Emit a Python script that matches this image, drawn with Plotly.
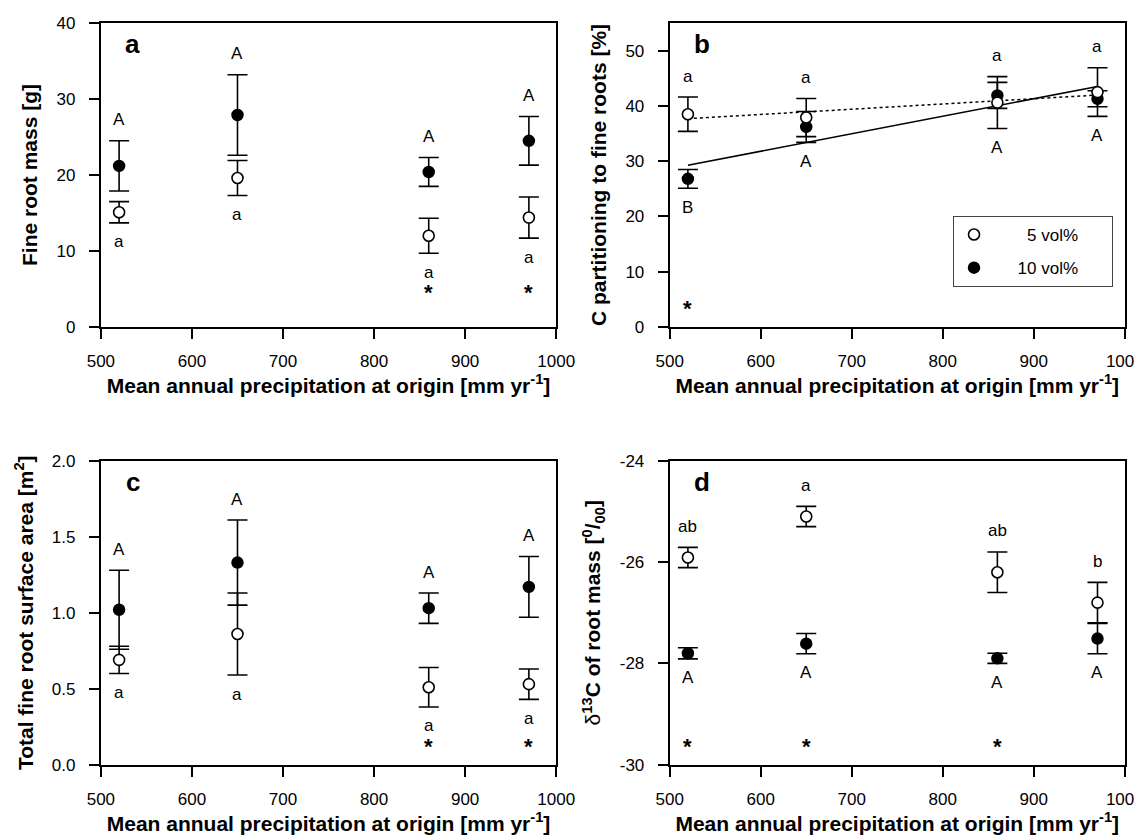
import numpy as np
import plotly.graph_objects as go

# ---------------- data ----------------
precip = [520, 650, 860, 970]

# a: fine root mass [g]
mass_5 = [15.1, 19.6, 12.0, 14.4]
mass_5_se = [1.4, 2.3, 2.3, 2.7]
mass_10 = [21.2, 27.9, 20.4, 24.5]
mass_10_se = [3.3, 5.3, 1.9, 3.2]
mass_upper = ["A", "A", "A", "A"]
mass_lower = ["a", "a", "a", "a"]
mass_star = [False, False, True, True]
mass_star_y = 5.2

# b: C partitioning to fine roots [%]
cpart_5 = [38.5, 37.9, 40.6, 42.5]
cpart_5_se = [3.1, 3.45, 4.7, 4.4]
cpart_10 = [26.8, 36.2, 41.9, 41.3]
cpart_10_se = [1.7, 2.8, 2.35, 1.45]
cpart_upper = ["a", "a", "a", "a"]
cpart_lower = ["B", "A", "A", "A"]
cpart_star = [True, False, False, False]
cpart_star_y = 4.2

# c: total fine root surface area [m2]
area_5 = [0.69, 0.86, 0.51, 0.53]
area_5_se = [0.09, 0.27, 0.13, 0.10]
area_10 = [1.02, 1.33, 1.03, 1.17]
area_10_se = [0.26, 0.28, 0.10, 0.20]
area_upper = ["A", "A", "A", "A"]
area_lower = ["a", "a", "a", "a"]
area_star = [False, False, True, True]
area_star_y = 0.15

# d: delta13C of root mass [permil]
d13c_5 = [-25.91, -25.10, -26.20, -26.80]
d13c_5_se = [0.20, 0.20, 0.40, 0.40]
d13c_10 = [-27.80, -27.61, -27.90, -27.51]
d13c_10_se = [0.11, 0.20, 0.10, 0.30]
d13c_upper = ["ab", "a", "ab", "b"]
d13c_lower = ["A", "A", "A", "A"]
d13c_star = [True, True, True, False]
d13c_star_y = -29.55

series_names = ["5 vol%", "10 vol%"]
panel_letters = ["a", "b", "c", "d"]

# ---------------- style ----------------
FONT = "Liberation Sans, Arial, sans-serif"
TICK_SIZE = 17
TITLE_SIZE = 21

fig = go.Figure()

panels = [
    dict(m5=mass_5, s5=mass_5_se, m10=mass_10, s10=mass_10_se, up=mass_upper, lo=mass_lower,
         star=mass_star, star_y=mass_star_y, ax="", fit=False, legend=False),
    dict(m5=cpart_5, s5=cpart_5_se, m10=cpart_10, s10=cpart_10_se, up=cpart_upper, lo=cpart_lower,
         star=cpart_star, star_y=cpart_star_y, ax="2", fit=True, legend=True),
    dict(m5=area_5, s5=area_5_se, m10=area_10, s10=area_10_se, up=area_upper, lo=area_lower,
         star=area_star, star_y=area_star_y, ax="3", fit=False, legend=False),
    dict(m5=d13c_5, s5=d13c_5_se, m10=d13c_10, s10=d13c_10_se, up=d13c_upper, lo=d13c_lower,
         star=d13c_star, star_y=d13c_star_y, ax="4", fit=False, legend=False),
]

annotations = []
pad = "\u00a0"
for i, p in enumerate(panels):
    xa, ya = "x" + p["ax"], "y" + p["ax"]
    if p["fit"]:
        xs = np.array([min(precip), max(precip)], dtype=float)
        for vals, dash in ((p["m10"], "solid"), (p["m5"], "dot")):
            k, b = np.polyfit(precip, vals, 1)
            fig.add_trace(go.Scatter(x=xs, y=k * xs + b, mode="lines", xaxis=xa, yaxis=ya,
                                     line=dict(color="black", width=1.5, dash=dash),
                                     showlegend=False, hoverinfo="skip"))
    # filled (10 vol%)
    fig.add_trace(go.Scatter(
        x=precip, y=p["m10"], mode="markers", xaxis=xa, yaxis=ya,
        name=pad * 5 + series_names[1] + pad * 6, legendrank=2, legendgroup="g10",
        showlegend=p["legend"],
        marker=dict(size=11, color="black", line=dict(color="black", width=1.5)),
        error_y=dict(type="data", array=p["s10"], color="black", thickness=1.6, width=10)))
    # open (5 vol%)
    fig.add_trace(go.Scatter(
        x=precip, y=p["m5"], mode="markers", xaxis=xa, yaxis=ya,
        name=pad * 7 + series_names[0] + pad * 6, legendrank=1, legendgroup="g5",
        showlegend=p["legend"],
        marker=dict(size=11, color="white", line=dict(color="black", width=1.6)),
        error_y=dict(type="data", array=p["s5"], color="black", thickness=1.6, width=10)))

    tops = [max(a + sa, b + sb) for a, sa, b, sb in zip(p["m5"], p["s5"], p["m10"], p["s10"])]
    bots = [min(a - sa, b - sb) for a, sa, b, sb in zip(p["m5"], p["s5"], p["m10"], p["s10"])]
    for x, t, bt, u, l, s in zip(precip, tops, bots, p["up"], p["lo"], p["star"]):
        annotations.append(dict(x=x, y=t, xref=xa, yref=ya, text=u, showarrow=False,
                                yanchor="middle", yshift=21,
                                font=dict(size=TICK_SIZE, family=FONT, color="black")))
        annotations.append(dict(x=x, y=bt, xref=xa, yref=ya, text=l, showarrow=False,
                                yanchor="middle", yshift=-19,
                                font=dict(size=TICK_SIZE, family=FONT, color="black")))
        if s:
            annotations.append(dict(x=x, y=p["star_y"], xref=xa, yref=ya, text="<b>*</b>",
                                    showarrow=False, yanchor="middle", yshift=-5,
                                    font=dict(size=22, family=FONT, color="black")))
    annotations.append(dict(x=0.07, y=0.93, xref=xa + " domain", yref=ya + " domain",
                            text="<b>%s</b>" % panel_letters[i], showarrow=False,
                            xanchor="center", yanchor="middle",
                            font=dict(size=26, family=FONT, color="black")))

xtitle = "<b>Mean annual precipitation at origin [mm yr<sup>-1</sup>]</b>"

def xaxis(domain, anchor):
    return dict(domain=domain, anchor=anchor, range=[500, 1000], dtick=100, tick0=500,
                ticks="outside", ticklen=10, tickwidth=1.5, tickcolor="black",
                showline=True, linecolor="black", linewidth=2, mirror=True,
                showgrid=False, zeroline=False, automargin=False,
                ticklabelstandoff=8,
                tickfont=dict(size=TICK_SIZE, color="black"),
                title=dict(text=xtitle, font=dict(size=TITLE_SIZE, color="black"), standoff=8))

def yaxis(domain, anchor, rng, dtick, title, tickvals=None, ticktext=None):
    d = dict(domain=domain, anchor=anchor, range=rng, dtick=dtick,
             ticks="outside", ticklen=10, tickwidth=1.5, tickcolor="black",
             showline=True, linecolor="black", linewidth=2, mirror=True,
             showgrid=False, zeroline=False, automargin=False,
             ticklabelstandoff=10,
             tickfont=dict(size=TICK_SIZE, color="black"),
             title=dict(text=title, font=dict(size=TITLE_SIZE, color="black"), standoff=13))
    if tickvals is not None:
        d.update(tickmode="array", tickvals=tickvals, ticktext=ticktext)
    return d

XL = [92.9 / 1142, 548.2 / 1142]
XR = [661.7 / 1142, 1116.8 / 1142]
YT = [1 - 319 / 836, 1 - 15 / 836]
YB = [1 - 756.7 / 836, 1 - 452.8 / 836]

d_ticks = [-30, -28, -26, -24]

fig.update_layout(
    width=1142, height=836,
    margin=dict(l=0, r=0, t=0, b=0),
    paper_bgcolor="white", plot_bgcolor="white",
    font=dict(family=FONT, color="black", size=TICK_SIZE),
    xaxis=xaxis(XL, "y"),
    yaxis=yaxis(YT, "x", [0, 40], 10, "<b>Fine root mass [g]</b>"),
    xaxis2=xaxis(XR, "y2"),
    yaxis2=yaxis(YT, "x2", [0, 55], 10, "<b>C partitioning to fine roots [%]</b>"),
    xaxis3=xaxis(XL, "y3"),
    yaxis3=yaxis(YB, "x3", [0, 2], 0.5, "<b>Total fine root surface area [m<sup>2</sup>]</b>"),
    xaxis4=xaxis(XR, "y4"),
    yaxis4=yaxis(YB, "x4", [-30, -24], 2,
                 "δ<b><sup>13</sup>C of root mass [<sup>0</sup>/<sub>00</sub>]</b>",
                 tickvals=d_ticks, ticktext=[str(v) for v in d_ticks]),
    annotations=annotations,
    showlegend=True,
    legend=dict(x=945 / 1142, y=1 - 208 / 836, xanchor="left", yanchor="top",
                bordercolor="#444", borderwidth=1, bgcolor="white",
                font=dict(size=TICK_SIZE, color="black"), traceorder="grouped",
                tracegroupgap=8),
)
fig.update_yaxes(tickformat=".1f", selector=dict(anchor="x3"))

fig.write_html("out.html")
